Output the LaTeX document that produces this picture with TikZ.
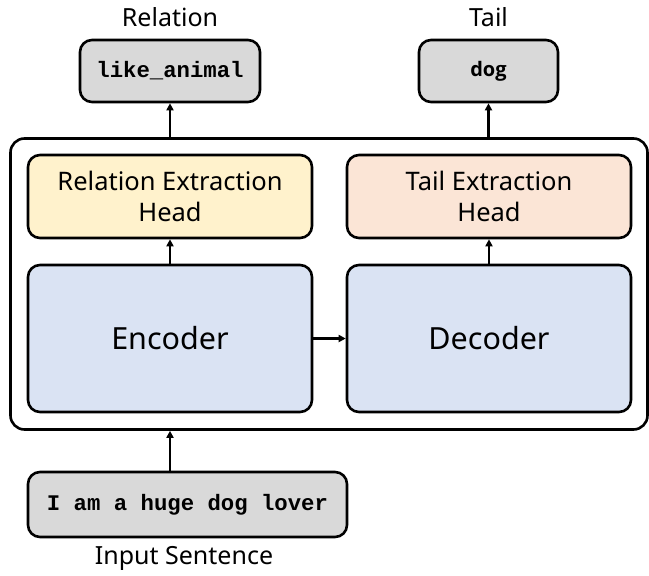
\documentclass[tikz,border=0pt]{standalone}
\usepackage{fontspec}
\setmainfont{Noto Sans}
\newfontfamily\codefont{Liberation Mono}
\newfontfamily\tagfont{Open Sans}
\usetikzlibrary{arrows.meta}

\definecolor{boxgray}{HTML}{D9D9D9}
\definecolor{relyellow}{HTML}{FFF2CC}
\definecolor{tailpeach}{HTML}{FBE5D6}
\definecolor{coderblue}{HTML}{DAE3F3}

\tikzset{
  block/.style={draw=black, line width=2.6pt, rounded corners=12pt,
    align=center, inner sep=0pt, font=\fontsize{25.5}{31}\selectfont},
  iobox/.style={block, fill=boxgray, font=\codefont\bfseries\fontsize{22.3}{26}\selectfont},
  caption/.style={font=\fontsize{25}{30}\selectfont, inner sep=0pt},
  flow/.style={line width=2.2pt, -{Triangle[length=7pt,width=7pt]}},
}

\begin{document}
\begin{tikzpicture}[x=1pt, y=-1pt]
  \useasboundingbox (0,0) rectangle (649,576);

  % outer model frame
  \node[draw=black, line width=2.6pt, rounded corners=14pt,
        minimum width=637pt, minimum height=291pt] (model) at (329,284) {};

  % heads
  \node[block, fill=relyellow, minimum width=284pt, minimum height=83pt]
    (relhead) at (170,196.5) {Relation Extraction\\Head};
  \node[block, fill=tailpeach, minimum width=284pt, minimum height=83pt]
    (tailhead) at (489,196.5) {Tail Extraction\\Head};

  % encoder / decoder
  \node[block, fill=coderblue, minimum width=284pt, minimum height=147pt,
        font=\fontsize{30.5}{34}\selectfont] (enc) at (170,338.5) {Encoder};
  \node[block, fill=coderblue, minimum width=284pt, minimum height=147pt,
        font=\fontsize{30.5}{34}\selectfont] (dec) at (489,338.5) {Decoder};

  % outputs
  \node[iobox, minimum width=180pt, minimum height=62pt] (rel) at (170,71) {like\_animal};
  \node[iobox, minimum width=139pt, minimum height=62pt,
        font=\tagfont\bfseries\fontsize{20}{24}\selectfont] (tail) at (488.5,71) {dog};
  \node[caption] (rellabel) at (170,17) {Relation};
  \node[caption] (taillabel) at (488.5,17) {Tail};

  % input
  \node[iobox, minimum width=319pt, minimum height=65pt] (input) at (187.5,504.5) {I am a huge dog lover};
  \node[caption] (inlabel) at (184,558) {Input Sentence};

  % connectors
  \draw[flow] (input.north -| enc.south) -- (enc.south |- model.south);
  \draw[flow] (enc.north) -- (relhead.south);
  \draw[flow] (dec.north) -- (tailhead.south);
  \draw[flow] (enc.east) -- (dec.west);
  \draw[flow] (rel.south |- model.north) -- (rel.south);
  \draw[flow] (tail.south |- model.north) -- (tail.south);
\end{tikzpicture}
\end{document}
